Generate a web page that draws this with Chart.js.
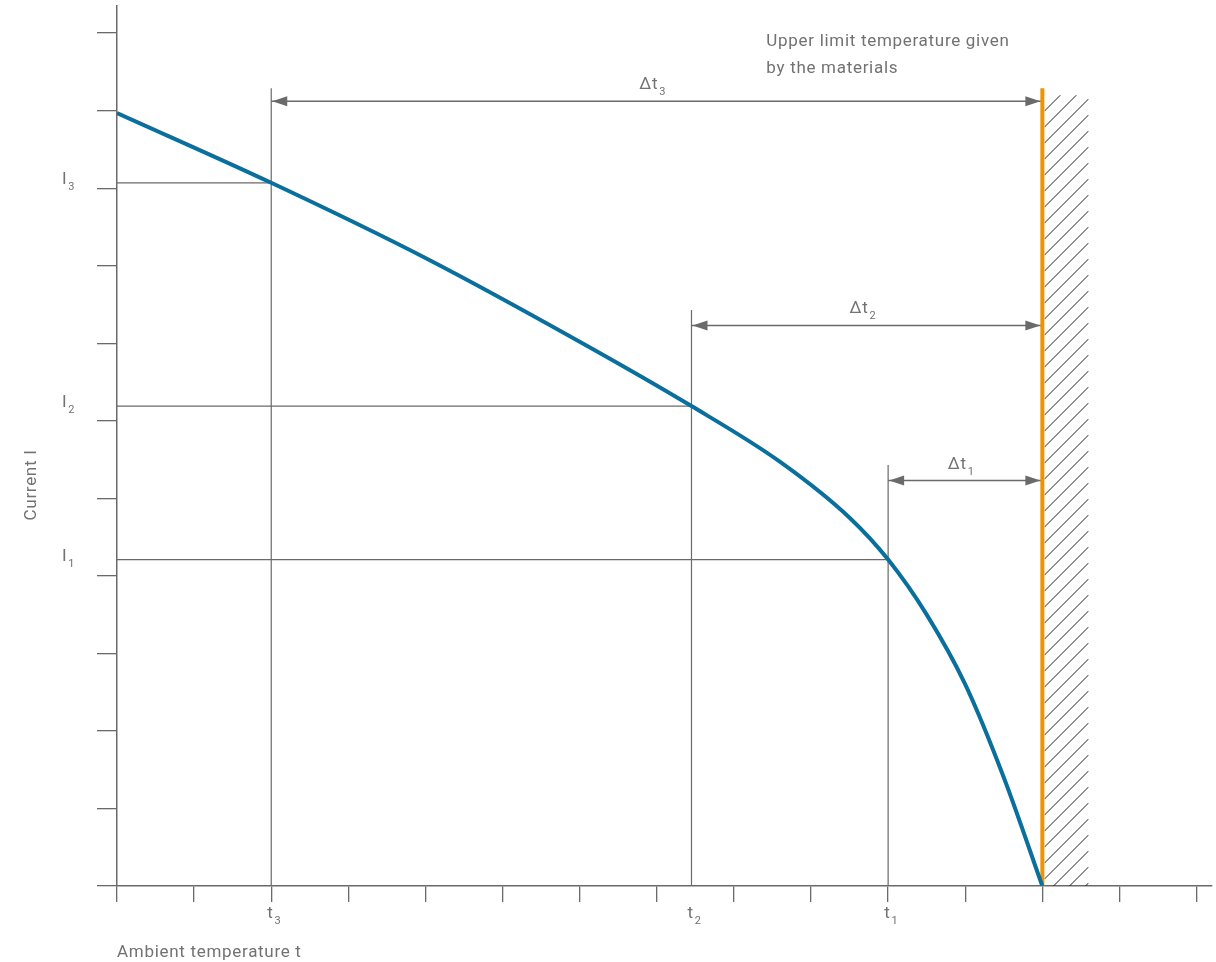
<!DOCTYPE html>
<html lang="en">
<head>
  <meta charset="UTF-8" />
  <title>Current vs ambient temperature</title>
  <script src="https://cdn.jsdelivr.net/npm/chart.js"></script>
  <style>
    html, body { margin: 0; padding: 0; background: #fff; }
    #wrap { width: 1216px; height: 962px; position: relative; }
  </style>
</head>
<body>
  <div id="wrap"><canvas id="chart"></canvas></div>

  <script>
    // Derating curve, in grid units (one unit = one tick)
    const curveX = [0, 2, 4, 6, 7.45, 8.6, 9.5, 10, 10.5, 11, 11.5, 12];
    const curveY = [9.97, 9.07, 8.1, 7.02, 6.19, 5.47, 4.75, 4.21, 3.5, 2.6, 1.4, 0];

    // Operating points t1..t3 / I1..I3
    const pointNames = ["1", "2", "3"];
    const tValues = [10, 7.45, 2];
    const iValues = [4.21, 6.19, 9.07];
    const tLineTops = [5.43, 7.43, 10.29];
    const arrowLevels = [5.23, 7.23, 10.12];

    // Upper limit temperature and hatched zone behind it
    const limitT = 12;
    const limitTop = 10.29;
    const hatchEnd = 12.6;
    const hatchTop = 10.2;

    const xTicks = [0, 1, 2, 3, 4, 5, 6, 7, 8, 9, 10, 11, 12, 13, 14];
    const yTicks = [0, 1, 2, 3, 4, 5, 6, 7, 8, 9, 10, 11];
    const xMax = 14.2, yMax = 11.35;

    const noteLines = ["Upper limit temperature given", "by the materials"];
    const xTitle = "Ambient temperature t";
    const yTitle = "Current I";

    const GRAY = '#6a6a6a';
    const TEXT = '#727272';
    const BLUE = '#0a6f9c';
    const ORANGE = '#f39200';
    const FONT = 'Roboto, "DejaVu Sans", sans-serif';

    // segments separated by null points
    const tLines = [], iLines = [], shafts = [];
    tValues.forEach((t, i) => {
      tLines.push({x: t, y: 0}, {x: t, y: tLineTops[i]}, {x: t, y: null});
      iLines.push({x: 0, y: iValues[i]}, {x: t, y: iValues[i]}, {x: t, y: null});
      shafts.push({x: t, y: arrowLevels[i]}, {x: limitT, y: arrowLevels[i]}, {x: limitT, y: null});
    });

    function subLabel(ctx, main, sub, x, base, align) {
      ctx.font = '17px ' + FONT;
      const w1 = ctx.measureText(main).width;
      ctx.font = '11px ' + FONT;
      const w2 = ctx.measureText(sub).width;
      const start = align === 'center' ? x - (w1 + 1 + w2) / 2 : x;
      ctx.textAlign = 'left';
      ctx.textBaseline = 'alphabetic';
      ctx.font = '17px ' + FONT;
      ctx.fillText(main, start, base);
      ctx.font = '11px ' + FONT;
      ctx.fillText(sub, start + w1 + 1, base + 6);
    }

    function arrowHead(ctx, tipX, tipY, dir) {
      ctx.beginPath();
      ctx.moveTo(tipX, tipY);
      ctx.lineTo(tipX - dir * 15, tipY - 5);
      ctx.lineTo(tipX - dir * 15, tipY + 5);
      ctx.closePath();
      ctx.fill();
    }

    const annotate = {
      id: 'annotate',
      beforeDatasetsDraw(chart) {
        const {ctx, scales: {x, y}} = chart;
        const left = x.getPixelForValue(limitT) + 2;
        const right = x.getPixelForValue(hatchEnd);
        const top = y.getPixelForValue(hatchTop);
        const bottom = y.getPixelForValue(0);
        const w = right - left;
        ctx.save();
        ctx.beginPath();
        ctx.rect(left, top, w, bottom - top);
        ctx.clip();
        ctx.strokeStyle = '#222';
        ctx.lineWidth = 1;
        ctx.beginPath();
        for (let yy = top; yy < bottom + w + 16; yy += 16) {
          ctx.moveTo(left, yy);
          ctx.lineTo(right, yy - w);
        }
        ctx.stroke();
        ctx.restore();
      },
      afterDatasetsDraw(chart) {
        const {ctx, chartArea, scales: {x, y}} = chart;
        const limX = x.getPixelForValue(limitT);
        ctx.save();
        ctx.fillStyle = GRAY;
        tValues.forEach((t, i) => {
          const ay = y.getPixelForValue(arrowLevels[i]);
          const tx = x.getPixelForValue(t);
          arrowHead(ctx, tx + 1, ay, -1);
          arrowHead(ctx, limX - 2, ay, 1);
        });

        ctx.fillStyle = TEXT;
        ctx.letterSpacing = '0.7px';
        tValues.forEach((t, i) => {
          const tx = x.getPixelForValue(t);
          const ay = y.getPixelForValue(arrowLevels[i]);
          subLabel(ctx, '\u0394t', pointNames[i], (tx + limX) / 2 - 4, ay - 12, 'center');
          subLabel(ctx, 't', pointNames[i], tx - 4, chartArea.bottom + 32, 'left');
          subLabel(ctx, 'I', pointNames[i], chartArea.left - 55, y.getPixelForValue(iValues[i]) + 1, 'left');
        });

        ctx.font = '17px ' + FONT;
        ctx.textAlign = 'left';
        ctx.textBaseline = 'alphabetic';
        noteLines.forEach((s, k) => ctx.fillText(s, limX - 276, 46 + k * 27));
        ctx.fillText(xTitle, chartArea.left, chartArea.bottom + 71);

        ctx.translate(36, 485);
        ctx.rotate(-Math.PI / 2);
        ctx.textAlign = 'center';
        ctx.fillText(yTitle, 0, 0);
        ctx.restore();
      }
    };

    new Chart(document.getElementById('chart'), {
      type: 'line',
      data: {
        datasets: [
          {
            data: curveX.map((v, i) => ({x: v, y: curveY[i]})),
            borderColor: BLUE,
            borderWidth: 4,
            cubicInterpolationMode: 'monotone',
            pointRadius: 0,
            order: 0
          },
          {
            data: [{x: limitT, y: 0}, {x: limitT, y: limitTop}],
            borderColor: ORANGE,
            borderWidth: 4,
            pointRadius: 0,
            order: 1
          },
          {
            data: tLines.concat(iLines),
            borderColor: GRAY,
            borderWidth: 1.2,
            pointRadius: 0,
            spanGaps: false,
            order: 2
          },
          {
            data: shafts,
            borderColor: GRAY,
            borderWidth: 1.5,
            pointRadius: 0,
            spanGaps: false,
            order: 2
          }
        ]
      },
      options: {
        responsive: true,
        maintainAspectRatio: false,
        animation: false,
        layout: { padding: { top: 6, right: 4, left: 0, bottom: 0 } },
        plugins: { legend: { display: false }, tooltip: { enabled: false } },
        scales: {
          x: {
            type: 'linear',
            min: 0,
            max: xMax,
            afterBuildTicks: s => { s.ticks = xTicks.map(v => ({value: v})); },
            afterFit: s => { s.height = 76; },
            ticks: { display: false },
            grid: { drawOnChartArea: false, drawTicks: true, tickLength: 16, color: GRAY, lineWidth: 1.3 },
            border: { display: true, color: GRAY, width: 1.5 }
          },
          y: {
            type: 'linear',
            min: 0,
            max: yMax,
            afterBuildTicks: s => { s.ticks = yTicks.map(v => ({value: v})); },
            afterFit: s => { s.width = 117; },
            ticks: { display: false },
            grid: { drawOnChartArea: false, drawTicks: true, tickLength: 20, color: GRAY, lineWidth: 1.3 },
            border: { display: true, color: GRAY, width: 1.5 }
          }
        }
      },
      plugins: [annotate]
    });
  </script>
</body>
</html>
